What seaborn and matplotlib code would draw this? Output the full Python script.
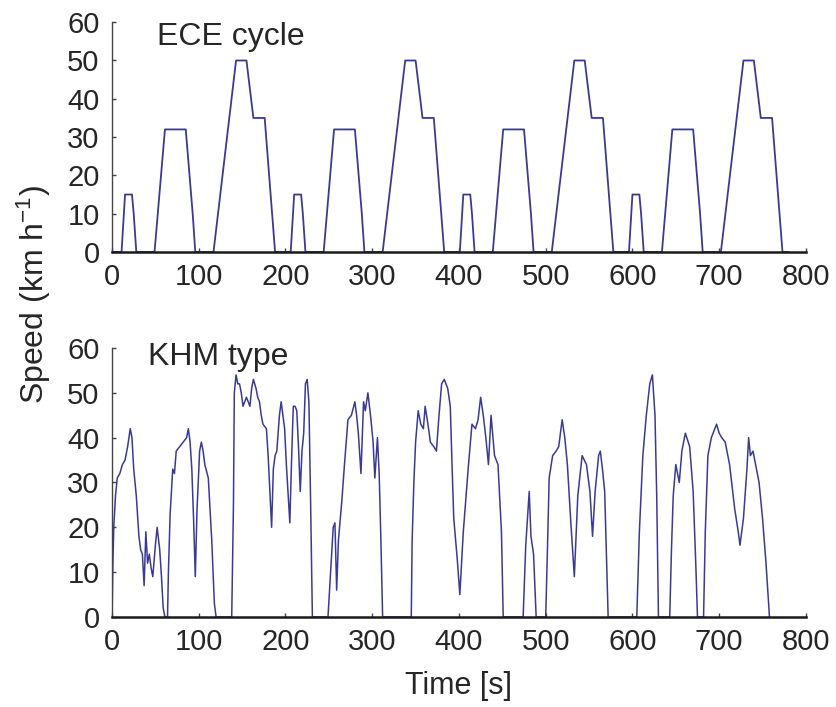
import matplotlib
matplotlib.use("Agg")
import matplotlib.pyplot as plt
import seaborn as sns

# ECE urban cycle, four repetitions (breakpoints of the speed profile)
ece_time = [0, 11, 15, 23, 25, 28, 49, 61, 85, 93, 96, 117, 143, 155, 163, 176, 188,
            195, 206, 210, 218, 220, 223, 244, 256, 280, 288, 291, 312, 338, 350, 358, 371, 383,
            390, 401, 405, 413, 415, 418, 439, 451, 475, 483, 486, 507, 533, 545, 553, 566, 578,
            585, 596, 600, 608, 610, 613, 634, 646, 670, 678, 681, 702, 728, 740, 748, 761, 773, 780]
ece_speed = [0, 0, 15, 15, 10, 0, 0, 32, 32, 10, 0, 0, 50, 50, 35, 35, 0,
             0, 0, 15, 15, 10, 0, 0, 32, 32, 10, 0, 0, 50, 50, 35, 35, 0,
             0, 0, 15, 15, 10, 0, 0, 32, 32, 10, 0, 0, 50, 50, 35, 35, 0,
             0, 0, 15, 15, 10, 0, 0, 32, 32, 10, 0, 0, 50, 50, 35, 35, 0, 0]

# KHM type driving pattern
khm_time = [0, 1, 2, 4, 6, 9, 12, 15, 18, 21, 23, 25, 28, 31, 33, 35, 37, 39, 41, 43,
            45, 47, 50, 52, 55, 57, 59, 61, 64, 65, 67, 70, 72, 74, 78, 82, 86, 88, 90, 92,
            94, 96, 98, 101, 103, 105, 107, 111, 115, 118, 120, 138, 140, 141, 143, 145, 147, 149, 151, 153,
            155, 157, 159, 161, 163, 166, 168, 170, 172, 174, 178, 180, 182, 184, 186, 188, 190, 193, 195, 197,
            199, 201, 204, 205, 207, 209, 211, 213, 215, 217, 219, 221, 223, 225, 227, 229, 231, 249, 252, 255,
            257, 259, 261, 265, 268, 272, 276, 280, 282, 284, 287, 290, 292, 295, 298, 301, 303, 306, 308, 310,
            312, 345, 346, 348, 350, 353, 356, 359, 361, 365, 367, 371, 374, 377, 380, 383, 387, 390, 392, 394,
            398, 401, 405, 411, 415, 419, 422, 425, 428, 431, 434, 437, 441, 445, 449, 451, 474, 477, 481, 483,
            486, 489, 500, 502, 504, 508, 512, 515, 519, 522, 525, 529, 533, 537, 542, 547, 551, 554, 557, 561,
            563, 566, 568, 572, 605, 608, 612, 616, 620, 623, 626, 628, 630, 643, 645, 647, 650, 654, 657, 661,
            666, 670, 673, 675, 682, 684, 687, 691, 697, 700, 703, 707, 712, 718, 722, 724, 728, 732, 734, 736,
            739, 742, 746, 750, 754, 758]
khm_speed = [0, 12, 20, 27, 31, 32, 34, 35, 38, 42, 40, 33, 27, 18, 15, 14, 7, 19, 12, 14,
             11, 9, 16, 20, 15, 9, 2, 0, 0, 10, 23, 33, 32, 37, 38, 39, 40, 42, 39, 33,
             22, 9, 24, 37, 39, 37, 34, 31, 17, 3, 0, 0, 25, 50, 54, 52, 52, 50, 47, 48,
             49, 48, 47, 51, 53, 51, 49, 48, 45, 43, 42, 36, 28, 20, 33, 36, 37, 45, 48, 45,
             42, 34, 24, 21, 35, 47, 47, 46, 38, 28, 37, 41, 52, 53, 48, 25, 0, 0, 10, 20,
             21, 6, 17, 26, 34, 44, 45, 48, 45, 41, 32, 48, 46, 50, 45, 39, 31, 40, 32, 17,
             0, 0, 17, 30, 39, 46, 43, 42, 47, 42, 39, 38, 37, 45, 52, 53, 51, 47, 34, 22,
             13, 5, 19, 34, 43, 42, 44, 49, 45, 40, 34, 45, 36, 34, 19, 0, 0, 16, 28, 18,
             14, 0, 0, 15, 31, 36, 37, 38, 44, 40, 34, 21, 9, 27, 36, 34, 28, 18, 28, 36,
             37, 32, 28, 0, 0, 19, 36, 45, 52, 54, 45, 27, 0, 0, 15, 27, 34, 30, 37, 41,
             38, 28, 12, 0, 0, 19, 36, 40, 43, 41, 40, 39, 34, 24, 19, 16, 22, 33, 40, 36,
             37, 34, 30, 22, 12, 0]

x_ticks = [0, 100, 200, 300, 400, 500, 600, 700, 800]
y_ticks = [0, 10, 20, 30, 40, 50, 60]

line_color = "#3a3a96"
text_color = "#262626"

sns.set_theme(style="ticks")
plt.rcParams['font.family'] = ['Liberation Sans', 'DejaVu Sans']
plt.rcParams['mathtext.fontset'] = 'custom'
plt.rcParams['mathtext.rm'] = 'Liberation Sans'
plt.rcParams['mathtext.it'] = 'Liberation Sans:italic'

fig = plt.figure(figsize=(8.36, 7.07), dpi=100)
ax1 = fig.add_axes([0.134, 0.6436, 0.830, 0.325])
ax2 = fig.add_axes([0.134, 0.1273, 0.830, 0.3805])

sns.lineplot(x=ece_time, y=ece_speed, ax=ax1, color=line_color, linewidth=1.3,
             estimator=None, sort=False)
sns.lineplot(x=khm_time, y=khm_speed, ax=ax2, color=line_color, linewidth=1.1,
             estimator=None, sort=False)

for ax in (ax1, ax2):
    ax.set_xlim(0, 800)
    ax.set_ylim(0, 60)
    ax.set_xticks(x_ticks)
    ax.set_yticks(y_ticks)
    sns.despine(ax=ax)
    ax.spines['left'].set_linewidth(1.0)
    ax.spines['left'].set_color('#444444')
    ax.spines['bottom'].set_linewidth(1.8)
    ax.spines['bottom'].set_color('#1a1a1a')
    ax.tick_params(direction='in', length=3, width=1, labelsize=21,
                   colors='#444444', labelcolor=text_color)
    ax.tick_params(axis='y', pad=9)
    ax.tick_params(axis='x', pad=8)
    ax.set_xlabel('')
    ax.set_ylabel('')

ax1.text(52, 54, 'ECE cycle', fontsize=23, color=text_color, va='baseline')
ax2.text(42, 56.2, 'KHM type', fontsize=23, color=text_color, va='baseline')

ax2.set_xlabel('Time [s]', fontsize=22, color=text_color)
ax2.xaxis.set_label_coords(0.5, -0.288)
ax2.xaxis.label.set_va('baseline')

fig.supylabel('Speed (km h$^{-1}$)', x=0.018, y=0.583, fontsize=23, color=text_color)

fig.savefig('out.png', dpi=100)
